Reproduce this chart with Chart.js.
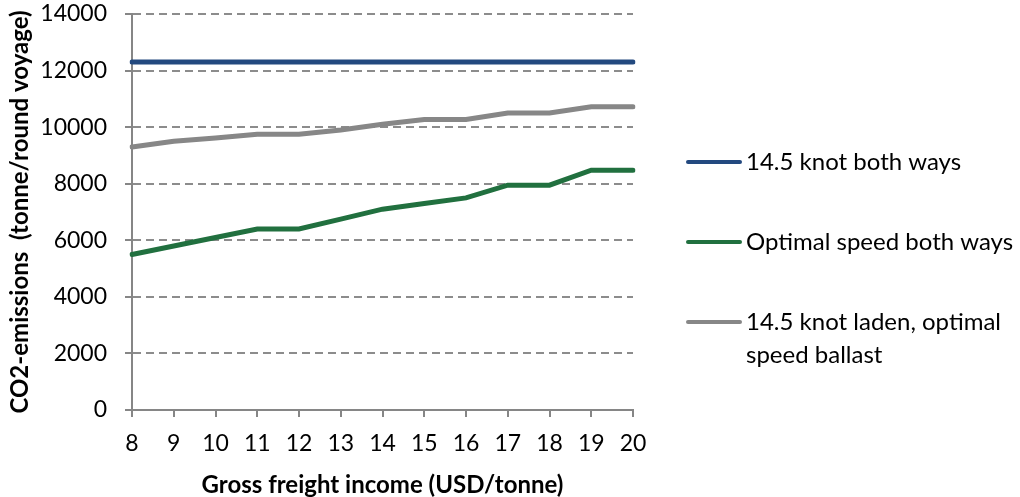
<!DOCTYPE html>
<html>
<head>
<meta charset="utf-8">
<script src="https://cdn.jsdelivr.net/npm/chart.js@4"></script>
<style>
  html, body { margin: 0; padding: 0; background: #fff; }
  #wrap { width: 1020px; height: 497px; }
</style>
</head>
<body>
<div id="wrap"><canvas id="co2Chart" width="1020" height="497"></canvas></div>
<script>
const incomes = ['8', '9', '10', '11', '12', '13', '14', '15', '16', '17', '18', '19', '20'];
const fullSpeed = [12300, 12300, 12300, 12300, 12300, 12300, 12300, 12300, 12300, 12300, 12300, 12300, 12300];
const optimalBoth = [5500, 5800, 6100, 6400, 6400, 6750, 7100, 7300, 7500, 7950, 7950, 8480, 8480];
const ladenFull = [9300, 9500, 9620, 9750, 9750, 9900, 10100, 10270, 10270, 10500, 10500, 10720, 10720];
const seriesNames = ['14.5 knot both ways', 'Optimal speed both ways', ['14.5 knot laden, optimal', 'speed ballast']];
const yTicks = [0, 2000, 4000, 6000, 8000, 10000, 12000, 14000];

const fontFam = "Lato, 'Open Sans', sans-serif";

// legend drawn by hand so the wrapped third label sits like the original
const sideLegend = {
  id: 'sideLegend',
  afterDraw(chart) {
    const ctx = chart.ctx;
    const rows = [162, 242, 322];
    ctx.save();
    ctx.font = "24px " + fontFam;
    ctx.textBaseline = 'middle';
    chart.data.datasets.forEach((ds, i) => {
      const y = rows[i];
      ctx.strokeStyle = ds.borderColor;
      ctx.lineWidth = 4;
      ctx.lineCap = 'round';
      ctx.beginPath();
      ctx.moveTo(688, y);
      ctx.lineTo(740, y);
      ctx.stroke();
      ctx.fillStyle = '#000';
      const lines = Array.isArray(ds.label) ? ds.label : [ds.label];
      lines.forEach((t, j) => ctx.fillText(t, 746, y + j * 33));
    });
    ctx.restore();
  }
};

new Chart(document.getElementById('co2Chart'), {
  type: 'line',
  data: {
    labels: incomes,
    datasets: [
      { label: seriesNames[0], data: fullSpeed, borderColor: '#23497F' },
      { label: seriesNames[1], data: optimalBoth, borderColor: '#21703F' },
      { label: seriesNames[2], data: ladenFull, borderColor: '#878787' }
    ].map(d => Object.assign(d, { borderWidth: 5, pointRadius: 0, tension: 0, fill: false, borderCapStyle: 'round' }))
  },
  options: {
    responsive: false,
    animation: false,
    layout: { autoPadding: false, padding: { top: 14, right: 387, left: 0, bottom: 0 } },
    plugins: { legend: { display: false }, tooltip: { enabled: false } },
    scales: {
      x: {
        offset: false,
        afterFit: axis => { axis.height = 87; axis.paddingLeft = 0; axis.paddingRight = 0; },
        grid: { display: true, drawOnChartArea: false, drawTicks: true, tickLength: 7, tickColor: '#868686', lineWidth: 2 },
        border: { color: '#868686', width: 2 },
        ticks: { color: '#000', font: { family: fontFam, size: 23 }, padding: 13, maxRotation: 0 },
        title: { display: true, text: 'Gross freight income (USD/tonne)', color: '#000', font: { family: fontFam, size: 24, weight: 'bold', lineHeight: 1 }, padding: { top: 0, bottom: 0 } }
      },
      y: {
        min: 0, max: 14000,
        afterFit: axis => { axis.width = 132; axis.paddingTop = 0; axis.paddingBottom = 0; },
        afterBuildTicks: axis => { axis.ticks = yTicks.map(v => ({ value: v })); },
        grid: {
          color: ctx => ctx.tick && ctx.tick.value === 0 ? 'rgba(0,0,0,0)' : '#8c8c8c',
          lineWidth: 2,
          tickColor: '#868686',
          tickLength: 7
        },
        border: { color: '#868686', width: 2, dash: [8, 5] },
        ticks: { color: '#000', font: { family: fontFam, size: 23 }, padding: 18, callback: v => String(v) },
        title: { display: true, text: 'CO2-emissions  (tonne/round voyage)', color: '#000', font: { family: fontFam, size: 24, weight: 'bold', lineHeight: 1 }, padding: { top: 8, bottom: 0 } }
      }
    }
  },
  plugins: [sideLegend]
});
</script>
</body>
</html>
